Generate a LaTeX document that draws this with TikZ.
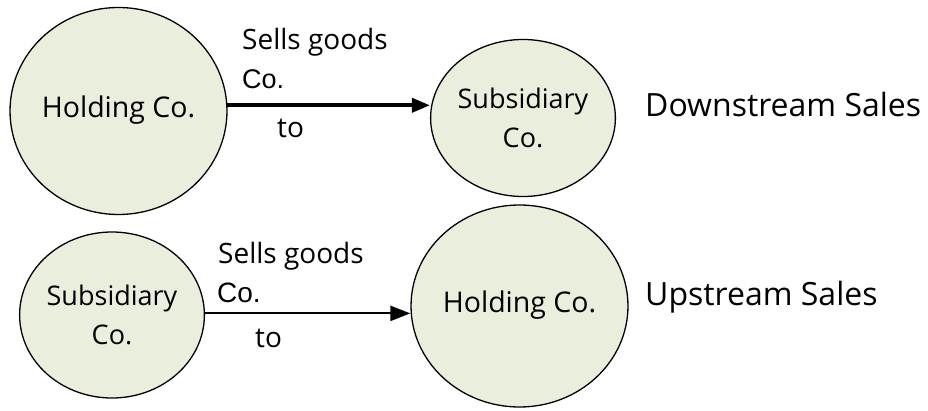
\documentclass[tikz,border=0pt]{standalone}
\usepackage{fontspec}
\setmainfont{Open Sans}
\newfontfamily\arialfont{Liberation Sans}
\usetikzlibrary{shapes.geometric,arrows.meta}

\definecolor{firmfill}{HTML}{EAEEDC}

\begin{document}
\begin{tikzpicture}[x=1pt,y=1pt,
    firm/.style={ellipse, draw=black, line width=1.3pt, fill=firmfill,
        inner sep=0pt, align=center},
    holdtext/.style={font=\fontsize{28.5}{34}\selectfont},
    subtext/.style={font=\fontsize{27}{39}\selectfont},
    sells/.style={-{Triangle[length=18pt,width=14pt]}, line width=3.6pt},
    lbl/.style={anchor=base west, inner sep=0pt},
    lbltext/.style={font=\fontsize{28}{33}\selectfont},
    cotext/.style={font=\arialfont\fontsize{27}{32}\selectfont},
    kind/.style={font=\fontsize{32}{37}\selectfont}]
    \useasboundingbox (0,0) rectangle (928,410);

    % Downstream: holding company sells to subsidiary
    \node[firm, holdtext, minimum width=213pt, minimum height=207pt] (hold1) at (118.5,299)
        {\raisebox{9pt}{Holding Co.}};
    \node[firm, subtext, minimum width=182pt, minimum height=157pt] (sub1) at (523,292)
        {Subsidiary\\ Co.};
    \draw[sells] (hold1.3.3) -- (hold1.3.3 -| sub1.west);
    \node[lbl, lbltext] (sg1) at (242,360) {Sells goods};
    \node[lbl, cotext] (co1) at (242,321) {Co.};
    \node[lbl, lbltext] (to1) at (277,272) {to};
    \node[lbl, kind] (down) at (645,293) {Downstream Sales};

    % Upstream: subsidiary sells to holding company
    \node[firm, subtext, minimum width=182pt, minimum height=166pt] (sub2) at (112,95)
        {Subsidiary\\ Co.};
    \node[firm, holdtext, minimum width=213pt, minimum height=202pt] (hold2) at (519.5,104)
        {\raisebox{9pt}{Holding Co.}};
    \draw[sells, line width=2.2pt, -{Triangle[length=20pt,width=15pt]}]
        (sub2.1) -- (sub2.1 -| hold2.west);
    \node[lbl, lbltext] (sg2) at (218,147) {Sells goods};
    \node[lbl, cotext, font=\arialfont\fontsize{28}{33}\selectfont] (co2) at (217,108) {Co.};
    \node[lbl, lbltext] (to2) at (255,63) {to};
    \node[lbl, kind] (up) at (645,105) {Upstream Sales};
\end{tikzpicture}
\end{document}
